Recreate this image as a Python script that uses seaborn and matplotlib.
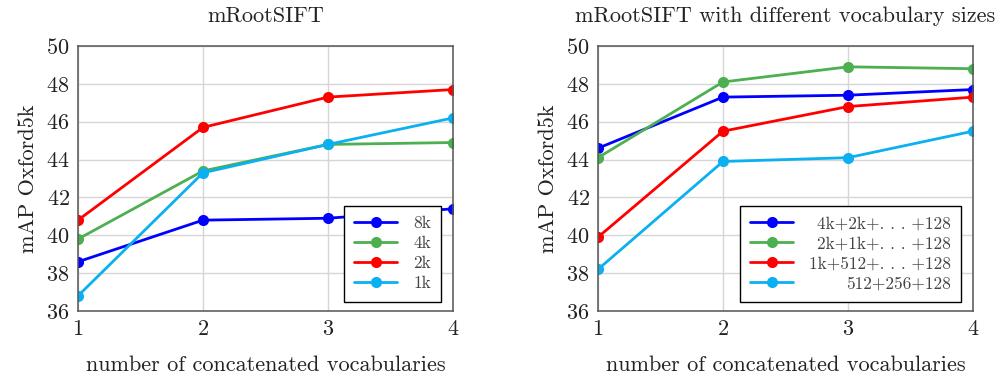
import numpy as np
import pandas as pd
import matplotlib
matplotlib.use("Agg")
import matplotlib.pyplot as plt
import seaborn as sns

# ---- data ----
x_vals = [1, 2, 3, 4]

left_labels = ["8k", "4k", "2k", "1k"]
left_8k = [38.6, 40.8, 40.9, 41.4]
left_4k = [39.8, 43.4, 44.8, 44.9]
left_2k = [40.8, 45.7, 47.3, 47.7]
left_1k = [36.8, 43.3, 44.8, 46.2]

right_labels = ["4k+2k+. . . +128", "2k+1k+. . . +128", "1k+512+. . . +128", "512+256+128"]
right_a = [44.6, 47.3, 47.4, 47.7]
right_b = [44.1, 48.1, 48.9, 48.8]
right_c = [39.9, 45.5, 46.8, 47.3]
right_d = [38.2, 43.9, 44.1, 45.5]

colors = ["#0000ff", "#4caf50", "#ff0000", "#0ab0f0"]
y_ticks = [36, 38, 40, 42, 44, 46, 48, 50]

sns.set_theme(style="whitegrid")
plt.rcParams["font.family"] = ["cmr10", "DejaVu Serif"]
plt.rcParams["mathtext.fontset"] = "cm"
plt.rcParams["axes.formatter.use_mathtext"] = True

FS = 16


def make_df(labels, series):
    rows = []
    for lab, vals in zip(labels, series):
        for xv, yv in zip(x_vals, vals):
            rows.append({"x": xv, "y": yv, "series": lab})
    return pd.DataFrame(rows)


fig = plt.figure(figsize=(10.05, 3.81), dpi=100)
axL = fig.add_axes([78 / 1005, 1 - 311 / 381, 375 / 1005, 265 / 381])
axR = fig.add_axes([598 / 1005, 1 - 311 / 381, 375 / 1005, 265 / 381])

panels = [
    (axL, left_labels, [left_8k, left_4k, left_2k, left_1k], "mRootSIFT"),
    (axR, right_labels, [right_a, right_b, right_c, right_d],
     "mRootSIFT with different vocabulary sizes"),
]

for ax, labels, series, title in panels:
    df = make_df(labels, series)
    sns.lineplot(data=df, x="x", y="y", hue="series", hue_order=labels,
                 palette=dict(zip(labels, colors)), marker="o", markersize=8,
                 markeredgewidth=0, linewidth=2, ax=ax, legend=False)
    ax.set_xlim(1, 4)
    ax.set_ylim(36, 50)
    ax.set_xticks(x_vals)
    ax.set_yticks(y_ticks)
    ax.tick_params(axis="both", labelsize=FS, length=0, pad=6, colors="#222222")
    ax.grid(True, color="#d6d6d6", linewidth=1)
    ax.set_facecolor("white")
    for s in ax.spines.values():
        s.set_visible(True)
        s.set_color("#555555")
        s.set_linewidth(1.1)
    ax.set_xlabel("number of concatenated vocabularies", fontsize=FS, labelpad=12, color="#222222")
    ax.set_ylabel("mAP Oxford5k", fontsize=FS, labelpad=6, color="#222222")
    ax.set_title(title, fontsize=FS, pad=17, color="#222222")

    handles = [plt.Line2D([], [], color=c, marker="o", markersize=8, markeredgewidth=0, linewidth=2)
               for c in colors]
    leg = ax.legend(handles, labels, loc="lower right", bbox_to_anchor=(0.969, 0.035),
                    fontsize=12.5, frameon=True, fancybox=False, edgecolor="black",
                    framealpha=1, borderpad=0.6, labelspacing=0.27, handlelength=2.5,
                    handletextpad=0.9, borderaxespad=0.0)
    leg.get_frame().set_linewidth(1.0)
    for t in leg.get_texts():
        t.set_color("#444444")

# right-align text in the right legend
fig.canvas.draw()
legR = axR.get_legend()
renderer = fig.canvas.get_renderer()
widths = [t.get_window_extent(renderer).width for t in legR.get_texts()]
wmax = max(widths)
for t, w in zip(legR.get_texts(), widths):
    t.set_position((wmax - w, 0))

fig.savefig("out.png", dpi=100, facecolor="white")
